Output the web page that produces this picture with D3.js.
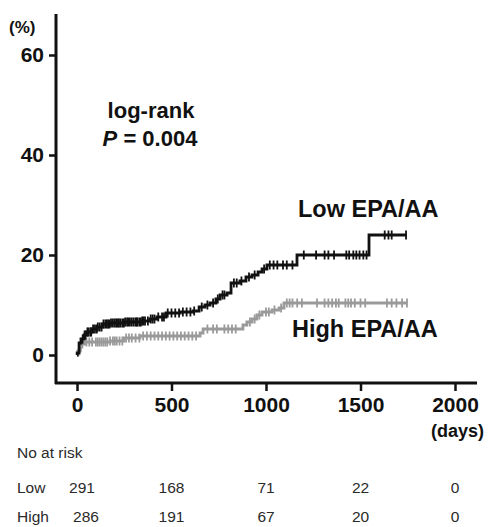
<!DOCTYPE html>
<html>
<head>
<meta charset="utf-8">
<script src="https://cdn.jsdelivr.net/npm/d3@7"></script>
<style>
  body { margin: 0; background: #fff; }
  svg { display: block; font-family: "Liberation Sans", Arial, sans-serif; }
</style>
</head>
<body>
<div id="container"></div>
<script>
// cumulative incidence steps, [days, %]
const lowSteps = [
    [0, 0], [1, 0.4], [11, 2.4], [21, 3.2], [37, 4.0], [53, 4.6], [79, 5.2], [106, 5.6],
    [138, 6.2], [175, 6.4], [249, 6.6], [339, 6.8], [386, 7.2], [423, 7.6], [471, 8.4],
    [545, 8.6], [614, 8.8], [646, 9.6], [677, 10.0], [704, 10.4], [735, 11.2], [757, 12.0],
    [794, 12.4], [815, 14.4], [862, 14.8], [894, 15.6], [926, 16.0], [958, 16.6],
    [979, 17.2], [1005, 18.0], [1164, 20.0], [1545, 24.0], [1741, 24.0]
];
const highSteps = [
    [0, 0], [5, 0.8], [16, 1.6], [26, 2.2], [42, 2.6], [175, 2.8], [249, 3.4], [333, 3.8],
    [651, 4.4], [667, 5.2], [862, 5.2], [878, 6.0], [899, 6.6], [926, 7.2], [952, 8.0],
    [979, 8.6], [1032, 9.0], [1069, 9.4], [1095, 10.4], [1746, 10.4]
];
// censored observations (days)
const lowCensor = [30, 40, 45, 55, 60, 70, 75, 85, 95, 105, 110, 120, 130, 140, 150, 158, 165,
    172, 180, 190, 200, 208, 215, 222, 230, 240, 248, 255, 265, 272, 280, 290, 300, 310, 315,
    320, 330, 338, 345, 352, 360, 375, 390, 400, 410, 430, 450, 460, 480, 500, 520, 540, 560,
    580, 600, 620, 660, 690, 720, 745, 770, 780, 830, 845, 870, 910, 940, 990, 1020, 1040,
    1060, 1090, 1110, 1140, 1200, 1265, 1310, 1330, 1360, 1425, 1440, 1462, 1478, 1495, 1515,
    1532, 1628, 1648, 1665, 1741];
const highCensor = [20, 50, 65, 80, 100, 110, 120, 130, 140, 150, 160, 175, 190, 200, 210, 225,
    240, 260, 275, 290, 310, 330, 350, 370, 390, 410, 430, 450, 470, 490, 510, 530, 550, 570,
    590, 610, 630, 690, 720, 740, 780, 800, 820, 840, 915, 940, 965, 1000, 1015, 1045, 1080,
    1110, 1125, 1140, 1165, 1190, 1270, 1310, 1330, 1350, 1370, 1385, 1420, 1435, 1450, 1470,
    1500, 1525, 1640, 1665, 1690, 1720, 1746];

const xTicks = [0, 500, 1000, 1500, 2000];
const yTicks = [0, 20, 40, 60];
const riskTimes = [0, 500, 1000, 1500, 2000];
const riskLow = [291, 168, 71, 22, 0];
const riskHigh = [286, 191, 67, 20, 0];

const width = 489, height = 527;

const svg = d3.select("#container")
    .append("svg")
    .attr("width", width)
    .attr("height", height);

const x = d3.scaleLinear().domain([0, 2000]).range([77, 455]);
const y = d3.scaleLinear().domain([0, 60]).range([355, 55]);

// axes lines
svg.append("line")
    .attr("x1", 56).attr("x2", 56)
    .attr("y1", 14).attr("y2", 384)
    .attr("stroke", "#111").attr("stroke-width", 3);
svg.append("line")
    .attr("x1", 55).attr("x2", 477)
    .attr("y1", 383).attr("y2", 383)
    .attr("stroke", "#111").attr("stroke-width", 3);

const yAxis = svg.append("g")
    .attr("transform", "translate(56,0)")
    .call(d3.axisLeft(y).tickValues(yTicks).tickSize(7).tickPadding(5));
yAxis.select(".domain").remove();
yAxis.selectAll(".tick line").attr("stroke", "#111").attr("stroke-width", 2.5);
yAxis.selectAll(".tick text")
    .attr("fill", "#111")
    .style("font-size", "21px")
    .style("font-weight", "bold");

const xAxis = svg.append("g")
    .attr("transform", "translate(0,383)")
    .call(d3.axisBottom(x).tickValues(xTicks).tickFormat(d3.format("d")).tickSize(8).tickPadding(6));
xAxis.select(".domain").remove();
xAxis.selectAll(".tick line").attr("stroke", "#111").attr("stroke-width", 2.5);
xAxis.selectAll(".tick text")
    .attr("fill", "#111")
    .style("font-size", "21px")
    .style("font-weight", "bold");

svg.append("text")
    .text("(%)")
    .attr("x", 9).attr("y", 33)
    .attr("fill", "#111")
    .style("font-size", "17px").style("font-weight", "bold");
svg.append("text")
    .text("(days)")
    .attr("x", 484).attr("y", 437)
    .attr("text-anchor", "end")
    .attr("fill", "#111")
    .style("font-size", "18px").style("font-weight", "bold");

// curves
const line = d3.line()
    .x(d => x(d[0]))
    .y(d => y(d[1]))
    .curve(d3.curveStepAfter);

function stepAt(steps, t) {
    let v = 0;
    for (const s of steps) if (s[0] <= t) v = s[1];
    return v;
}

const groups = [
    { steps: highSteps, censor: highCensor, color: "#9a9a9a" },
    { steps: lowSteps, censor: lowCensor, color: "#111" }
];

groups.forEach(g => {
    svg.append("path")
        .datum(g.steps)
        .attr("d", line)
        .attr("fill", "none")
        .attr("stroke", g.color)
        .attr("stroke-width", 2.8);
    svg.append("g")
        .selectAll("line")
        .data(g.censor)
        .join("line")
        .attr("x1", d => x(d)).attr("x2", d => x(d))
        .attr("y1", d => y(stepAt(g.steps, d)) - 4.5)
        .attr("y2", d => y(stepAt(g.steps, d)) + 4.5)
        .attr("stroke", g.color)
        .attr("stroke-width", 1.8);
});

// annotations
svg.append("text")
    .text("log-rank")
    .attr("x", 151).attr("y", 118)
    .attr("text-anchor", "middle")
    .attr("fill", "#111")
    .style("font-size", "22px").style("font-weight", "bold");
const pText = svg.append("text")
    .attr("x", 150).attr("y", 146)
    .attr("text-anchor", "middle")
    .attr("fill", "#111")
    .style("font-size", "22px").style("font-weight", "bold");
pText.append("tspan").text("P").style("font-style", "italic");
pText.append("tspan").text(" = 0.004");

svg.append("text")
    .text("Low EPA/AA")
    .attr("x", 298).attr("y", 217)
    .attr("fill", "#111")
    .style("font-size", "23.5px").style("font-weight", "bold");
svg.append("text")
    .text("High EPA/AA")
    .attr("x", 292).attr("y", 337)
    .attr("fill", "#111")
    .style("font-size", "23.5px").style("font-weight", "bold");

// number at risk
const table = svg.append("g")
    .attr("fill", "#2a2a2a")
    .style("font-size", "15.5px");
table.append("text").text("No at risk").attr("x", 17).attr("y", 458);
table.append("text").text("Low").attr("x", 17).attr("y", 493);
table.append("text").text("High").attr("x", 17).attr("y", 522);

table.selectAll(".low")
    .data(riskLow)
    .join("text")
    .attr("class", "low")
    .text(d => d)
    .attr("x", (d, i) => i === 0 ? x(riskTimes[i]) + 5 : x(riskTimes[i]))
    .attr("y", 493)
    .attr("text-anchor", "middle");
table.selectAll(".high")
    .data(riskHigh)
    .join("text")
    .attr("class", "high")
    .text(d => d)
    .attr("x", (d, i) => i === 0 ? x(riskTimes[i]) + 9 : x(riskTimes[i]))
    .attr("y", 522)
    .attr("text-anchor", "middle");
</script>
</body>
</html>
